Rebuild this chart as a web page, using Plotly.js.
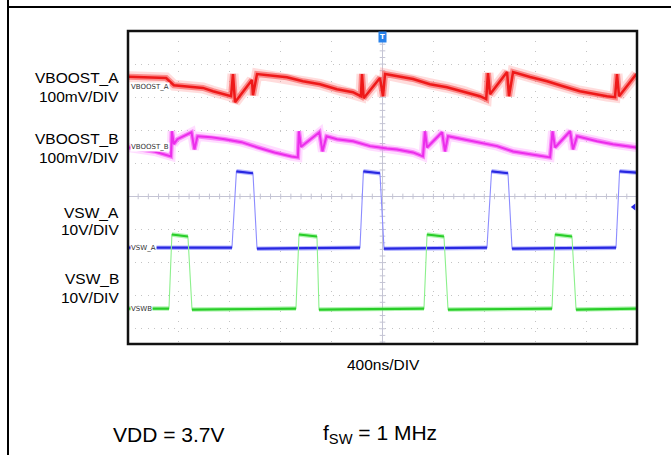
<!DOCTYPE html>
<html>
<head>
<meta charset="utf-8">
<script src="https://cdn.plot.ly/plotly-3.0.1.min.js"></script>
<style>
  html, body { margin: 0; padding: 0; background: #ffffff; }
  #chart { width: 671px; height: 455px; }
</style>
</head>
<body>
<div id="chart"></div>
<script>
// ---- Data (time in ns, amplitude in screen divisions, read from the scope capture) ----
const tBoostA = [-1995,-1700,-1640,-1536,-1411,-1332,-1253,-1190,-1175,-1159,-1026,-1018,-986,-884,-751,-625,-491,-358,-232,-170,-161,-148,-20,4,20,240,373,507,633,766,815,829,845,979,994,1026,1160,1293,1419,1552,1764,1827,1843,1859,1995];
const vBoostA = [3.62,3.58,3.36,3.33,3.28,3.18,3.09,3.03,3.70,2.85,3.52,3.06,3.70,3.65,3.60,3.48,3.39,3.24,3.15,3.03,3.70,2.97,3.58,3.03,3.70,3.55,3.39,3.30,3.18,3.03,2.94,3.73,3.09,3.76,3.03,3.76,3.61,3.48,3.33,3.18,3.03,3.00,3.70,3.03,3.70];

const tBoostB = [-1995,-1793,-1662,-1655,-1640,-1612,-1501,-1478,-1454,-1344,-1241,-1108,-982,-849,-716,-665,-657,-640,-496,-472,-440,-358,-232,-98,35,114,240,318,334,350,468,491,515,633,766,900,1026,1160,1317,1336,1356,1474,1497,1529,1686,1811,1995];
const vBoostB = [1.48,1.36,1.21,1.97,1.58,1.73,1.94,1.42,1.82,1.79,1.73,1.64,1.48,1.33,1.21,1.18,1.97,1.50,1.94,1.36,1.82,1.73,1.67,1.52,1.45,1.42,1.33,1.21,1.97,1.48,1.94,1.36,1.82,1.73,1.64,1.52,1.36,1.27,1.18,1.97,1.48,1.97,1.42,1.82,1.67,1.58,1.48];

const tSwA = [-1995,-1183,-1148,-1018,-986,-177,-150,-20,12,821,857,986,1018,1835,1863,1995];
const vSwA = [-1.55,-1.55,0.76,0.70,-1.58,-1.55,0.76,0.70,-1.58,-1.55,0.76,0.70,-1.58,-1.55,0.76,0.72];

const tSwB = [-1995,-1678,-1655,-1529,-1497,-680,-656,-515,-499,326,350,483,515,1332,1356,1489,1521,1995];
const vSwB = [-3.39,-3.39,-1.15,-1.21,-3.42,-3.39,-1.15,-1.21,-3.42,-3.39,-1.15,-1.21,-3.42,-3.39,-1.15,-1.21,-3.42,-3.39];

const channelNames = ["VBOOST_A","VBOOST_B","VSW_A","VSW_B"];
const channelScales = ["100mV/DIV","100mV/DIV","10V/DIV","10V/DIV"];
const innerLabels = ["VBOOST_A","VBOOST_B","VSW_A","VSWB"];
const timeBase = "400ns/DIV";

// ---- helpers ----
function flatOnly(t, v) {
  const x = [], y = [];
  for (let i = 0; i < t.length - 1; i++) {
    if (Math.abs(v[i+1] - v[i]) < 0.3) {
      x.push(t[i], t[i+1], null); y.push(v[i], v[i+1], null);
    }
  }
  return {x, y};
}
function line(x, y, color, width) {
  return {x, y, type: 'scatter', mode: 'lines', hoverinfo: 'skip',
          line: {color, width, shape: 'linear'}, showlegend: false, connectgaps: false};
}

const traces = [];
// crosshair minor ticks on the centre lines
const hx = [], hy = [], vx = [], vy = [];
for (let k = -25; k <= 25; k++) { hx.push(k * 80); hy.push(0); }
for (let k = -22; k <= 25; k++) { vx.push(0); vy.push(k * 0.2); }
traces.push({x: hx, y: hy, type: 'scatter', mode: 'markers', hoverinfo: 'skip', showlegend: false,
  marker: {symbol: 'line-ns-open', size: 4, color: '#c4c4d4', line: {color: '#c4c4d4', width: 1}}});
traces.push({x: vx, y: vy, type: 'scatter', mode: 'markers', hoverinfo: 'skip', showlegend: false,
  marker: {symbol: 'line-ew-open', size: 4, color: '#c4c4d4', line: {color: '#c4c4d4', width: 1}}});

// VBOOST_A (red, fuzzy band)
traces.push(line(tBoostA, vBoostA, 'rgba(255,140,140,0.30)', 11));
traces.push(line(tBoostA, vBoostA, 'rgba(248,70,70,0.55)', 6));
traces.push(line(tBoostA, vBoostA, 'rgb(238,25,25)', 2.5));
// VBOOST_B (magenta band)
traces.push(line(tBoostB, vBoostB, 'rgba(255,140,255,0.30)', 9));
traces.push(line(tBoostB, vBoostB, 'rgba(245,70,245,0.6)', 4.5));
traces.push(line(tBoostB, vBoostB, 'rgb(235,45,235)', 2));
// VSW_A (blue)
traces.push(line(tSwA, vSwA, 'rgb(140,140,255)', 1.1));
const fa = flatOnly(tSwA, vSwA);
traces.push(line(fa.x, fa.y, 'rgba(90,90,255,0.45)', 4.5));
traces.push(line(fa.x, fa.y, 'rgb(40,40,225)', 2.2));
// VSW_B (green)
traces.push(line(tSwB, vSwB, 'rgb(140,240,140)', 1.1));
const fb = flatOnly(tSwB, vSwB);
traces.push(line(fb.x, fb.y, 'rgba(80,230,80,0.45)', 4.5));
traces.push(line(fb.x, fb.y, 'rgb(40,205,40)', 2.2));

// right-edge ground marker for VSW_A
traces.push({x: [1975], y: [-0.32], type: 'scatter', mode: 'markers', hoverinfo: 'skip', showlegend: false,
  marker: {symbol: 'triangle-left', size: 6, color: 'rgb(40,40,225)'}});

// ---- layout ----
const L = 128, T = 31, W = 509, H = 313;
const px2x = px => (px - L) / W;
const py2y = py => (T + H - py) / H;
const FONT = 'Liberation Sans, Arial, sans-serif';

const annotations = [];
const leftY = [[77, 96], [138, 157], [212, 230], [278, 297]];
channelNames.forEach((n, i) => {
  annotations.push({xref: 'paper', yref: 'paper', x: px2x(121), y: py2y(leftY[i][0]), xanchor: 'right', yanchor: 'middle',
    text: n, showarrow: false, font: {family: FONT, size: 15.5, color: '#000'}});
  annotations.push({xref: 'paper', yref: 'paper', x: px2x(121), y: py2y(leftY[i][1]), xanchor: 'right', yanchor: 'middle',
    text: channelScales[i], showarrow: false, font: {family: FONT, size: 15.5, color: '#000'}});
});
const innerY = [3.31, 1.50, -1.56, -3.40];
innerLabels.forEach((n, i) => {
  annotations.push({xref: 'x', yref: 'y', x: -1985, y: innerY[i], xanchor: 'left', yanchor: 'middle',
    text: n, showarrow: false, bgcolor: '#ffffff', borderpad: 0,
    font: {family: 'DejaVu Sans, sans-serif', size: 7, color: '#333'}});
});
annotations.push({xref: 'paper', yref: 'paper', x: px2x(383), y: py2y(364), xanchor: 'center', yanchor: 'middle',
  text: timeBase, showarrow: false, font: {family: FONT, size: 15.5, color: '#000'}});
annotations.push({xref: 'paper', yref: 'paper', x: px2x(111), y: py2y(434), xanchor: 'left', yanchor: 'middle',
  text: 'VDD = 3.7V', showarrow: false, font: {family: FONT, size: 21, color: '#000'}});
annotations.push({xref: 'paper', yref: 'paper', x: px2x(321), y: py2y(434), xanchor: 'left', yanchor: 'middle',
  text: 'f<sub>SW</sub> = 1 MHz', showarrow: false, font: {family: FONT, size: 21, color: '#000'}});
// trigger "T" flag
annotations.push({xref: 'x', yref: 'paper', x: 0, y: 1, xanchor: 'center', yanchor: 'top',
  text: '<b>T</b>', showarrow: false, bgcolor: 'rgb(40,130,235)', borderpad: 1,
  font: {family: 'DejaVu Sans, sans-serif', size: 7, color: '#fff'}});

const shapes = [
  {type: 'line', xref: 'paper', yref: 'paper', x0: px2x(8), x1: px2x(8), y0: py2y(0), y1: py2y(455), line: {color: '#000', width: 2}},
  {type: 'line', xref: 'paper', yref: 'paper', x0: px2x(8), x1: px2x(671), y0: py2y(7), y1: py2y(7), line: {color: '#000', width: 2}},
  {type: 'rect', xref: 'paper', yref: 'paper', x0: 0, x1: 1, y0: 0, y1: 1, layer: 'above', line: {color: '#111', width: 2.5}}
];

const layout = {
  width: 671, height: 455,
  margin: {l: L, r: 671 - L - W, t: T, b: 455 - T - H, pad: 0},
  paper_bgcolor: '#fff', plot_bgcolor: '#fff',
  showlegend: false,
  xaxis: {range: [-2000, 2000], dtick: 400, tick0: 0, showticklabels: false, ticks: '',
    showgrid: true, gridcolor: '#c4c4c4', gridwidth: 1, griddash: '1px,9px',
    zeroline: true, zerolinecolor: '#c4c4d4', zerolinewidth: 1, showline: false, fixedrange: true},
  yaxis: {range: [-4.46, 5.0], dtick: 1, tick0: 0, showticklabels: false, ticks: '',
    showgrid: true, gridcolor: '#c4c4c4', gridwidth: 1, griddash: '1px,5.6px',
    zeroline: true, zerolinecolor: '#c4c4d4', zerolinewidth: 1, showline: false, fixedrange: true},
  annotations, shapes
};

Plotly.newPlot('chart', traces, layout, {displayModeBar: false, staticPlot: true});
</script>
</body>
</html>
